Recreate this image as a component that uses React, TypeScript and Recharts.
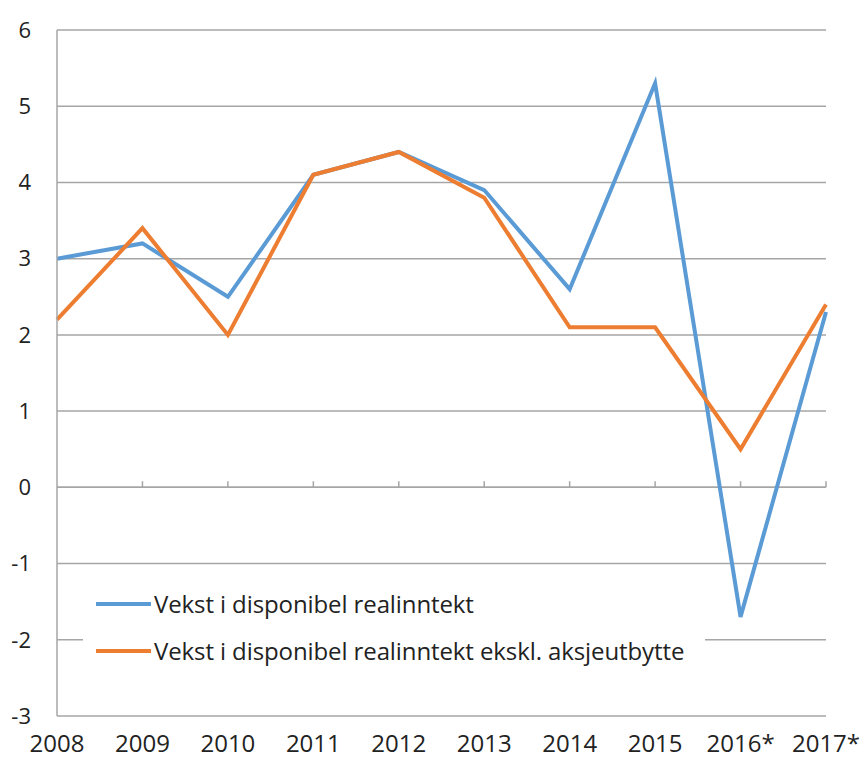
import React from 'react';
import { LineChart, Line, XAxis, YAxis, CartesianGrid, ReferenceLine } from 'recharts';

const years = ['2008', '2009', '2010', '2011', '2012', '2013', '2014', '2015', '2016*', '2017*'];
const realIncome = [3.0, 3.2, 2.5, 4.1, 4.4, 3.9, 2.6, 5.3, -1.7, 2.3];
const realIncomeExDividend = [2.2, 3.4, 2.0, 4.1, 4.4, 3.8, 2.1, 2.1, 0.5, 2.4];
const yTicks = [-3, -2, -1, 0, 1, 2, 3, 4, 5, 6];

const seriesNames = {
  realIncome: 'Vekst i disponibel realinntekt',
  realIncomeExDividend: 'Vekst i disponibel realinntekt ekskl. aksjeutbytte',
};

const colors = { realIncome: '#5b9bd5', realIncomeExDividend: '#ed7d31' };

const data = years.map((year, i) => ({
  year,
  realIncome: realIncome[i],
  realIncomeExDividend: realIncomeExDividend[i],
}));

const font = '"Open Sans", sans-serif';
const gridColor = '#a6a6a6';

// legend sits inside the plot on a white box (hides part of the -2 gridline)
function LegendBox() {
  const items = [
    { name: seriesNames.realIncome, color: colors.realIncome },
    { name: seriesNames.realIncomeExDividend, color: colors.realIncomeExDividend },
  ];
  return (
    <div
      style={{
        position: 'absolute',
        left: 83,
        top: 580,
        width: 622,
        height: 94,
        background: '#fff',
        fontFamily: font,
      }}
    >
      {items.map((item) => (
        <div key={item.name} style={{ display: 'flex', alignItems: 'center', height: 47, paddingLeft: 13 }}>
          <div style={{ width: 55, height: 4, background: item.color, marginRight: 3 }} />
          <span style={{ fontSize: 24, color: '#222', letterSpacing: -0.1, whiteSpace: 'nowrap' }}>{item.name}</span>
        </div>
      ))}
    </div>
  );
}

export default function App() {
  return (
    <div style={{ position: 'absolute', left: 0, top: 0, width: 861, height: 758, background: '#fff' }}>
      <LineChart width={861} height={758} data={data} margin={{ top: 30, right: 35, left: 0, bottom: 0 }}>
        <CartesianGrid vertical={false} stroke={gridColor} strokeWidth={1.5} />
        <XAxis
          dataKey="year"
          padding={{ left: 0, right: 0 }}
          axisLine={false}
          tickLine={false}
          tickSize={0}
          tickMargin={19}
          height={42}
          interval={0}
          tick={{ fontSize: 24, fill: '#222', fontFamily: font }}
        />
        <YAxis
          domain={[-3, 6]}
          ticks={yTicks}
          width={57}
          tickLine={false}
          tickSize={0}
          tickMargin={26}
          axisLine={{ stroke: gridColor, strokeWidth: 1.5 }}
          tick={{ fontSize: 22, fill: '#222', fontFamily: font }}
        />
        <ReferenceLine y={0} stroke={gridColor} strokeWidth={1.5} />
        {years.slice(1).map((year) => (
          <ReferenceLine
            key={year}
            segment={[{ x: year, y: 0 }, { x: year, y: 0.08 }]}
            stroke={gridColor}
            strokeWidth={1.5}
          />
        ))}
        <Line
          type="linear"
          dataKey="realIncome"
          name={seriesNames.realIncome}
          stroke={colors.realIncome}
          strokeWidth={4}
          dot={false}
          isAnimationActive={false}
        />
        <Line
          type="linear"
          dataKey="realIncomeExDividend"
          name={seriesNames.realIncomeExDividend}
          stroke={colors.realIncomeExDividend}
          strokeWidth={4}
          dot={false}
          isAnimationActive={false}
        />
      </LineChart>
      <LegendBox />
    </div>
  );
}
